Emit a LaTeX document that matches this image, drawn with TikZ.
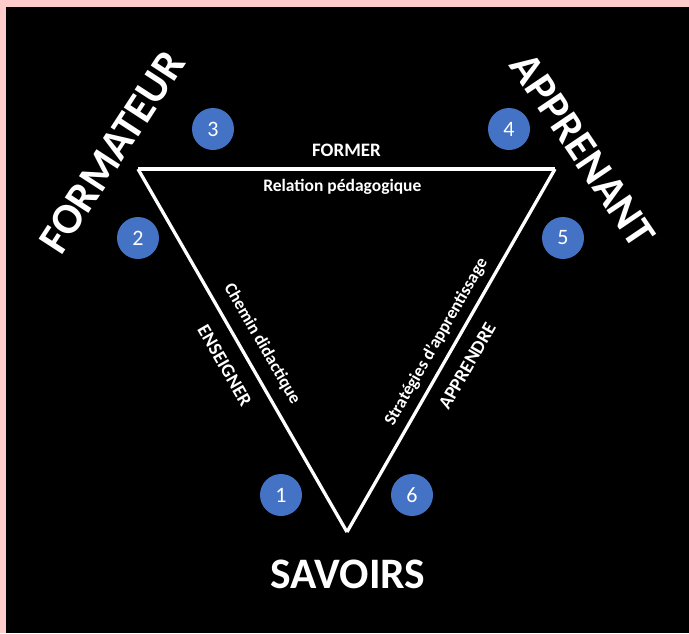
\documentclass[tikz,border=0pt]{standalone}
\usepackage{fontspec}
\setmainfont{Carlito}
\usetikzlibrary{positioning}
\definecolor{pinkframe}{RGB}{255,204,204}
\definecolor{numblue}{RGB}{68,114,196}

\begin{document}
\begin{tikzpicture}[
  x=1pt, y=-1pt,
  side/.style={white, line width=3.3pt, line join=miter},
  num/.style={circle, fill=numblue, minimum size=42pt, inner sep=0pt, text=white, font=\fontsize{22}{22}\selectfont},
  pole/.style={text=white, inner sep=0pt, font=\bfseries\fontsize{43.5}{43.5}\selectfont},
  verb/.style={text=white, inner sep=0pt, font=\bfseries\fontsize{19}{19}\selectfont},
  edgelabel/.style={text=white, inner sep=0pt, font=\bfseries\fontsize{17.5}{17.5}\selectfont}
]

% Frame and background
\fill[pinkframe] (0,0) rectangle (689,633);
\fill[black] (6,7) rectangle (689,633);
\useasboundingbox (0,0) rectangle (689,633);

% Triangle corners
\coordinate (form) at (138,169);
\coordinate (appr) at (555,169);
\coordinate (sav) at (347,532);

% Sides with their labels
\draw[side] (form) -- node[verb, above=11pt] (former) {FORMER}
  node[edgelabel, below=9pt, pos=0.49] (relation) {Relation pédagogique} (appr);
\draw[side] (form) -- node[edgelabel, sloped, above=11pt, pos=0.51] (chemin) {Chemin didactique}
  node[verb, sloped, below=15pt, pos=0.51] (enseigner) {ENSEIGNER} (sav);
\draw[side] (sav) -- node[edgelabel, sloped, above=7.5pt, pos=0.5] (strat) {Stratégies d’apprentissage}
  node[verb, sloped, below=14pt, pos=0.487] (apprendre) {APPRENDRE} (appr);

% Poles
\node[pole, rotate=57] (formateur) at (112,152) {FORMATEUR};
\node[pole, rotate=-56] (apprenant) at (583,150) {APPRENANT};
\node[pole] (savoirs) at (348,574) {SAVOIRS};

% Numbered steps
\node[num] (n1) at (281,495) {1};
\node[num] (n2) at (138,238) {2};
\node[num] (n3) at (213,129) {3};
\node[num] (n4) at (509,129) {4};
\node[num] (n5) at (563,238) {5};
\node[num] (n6) at (412,495) {6};

\end{tikzpicture}
\end{document}
